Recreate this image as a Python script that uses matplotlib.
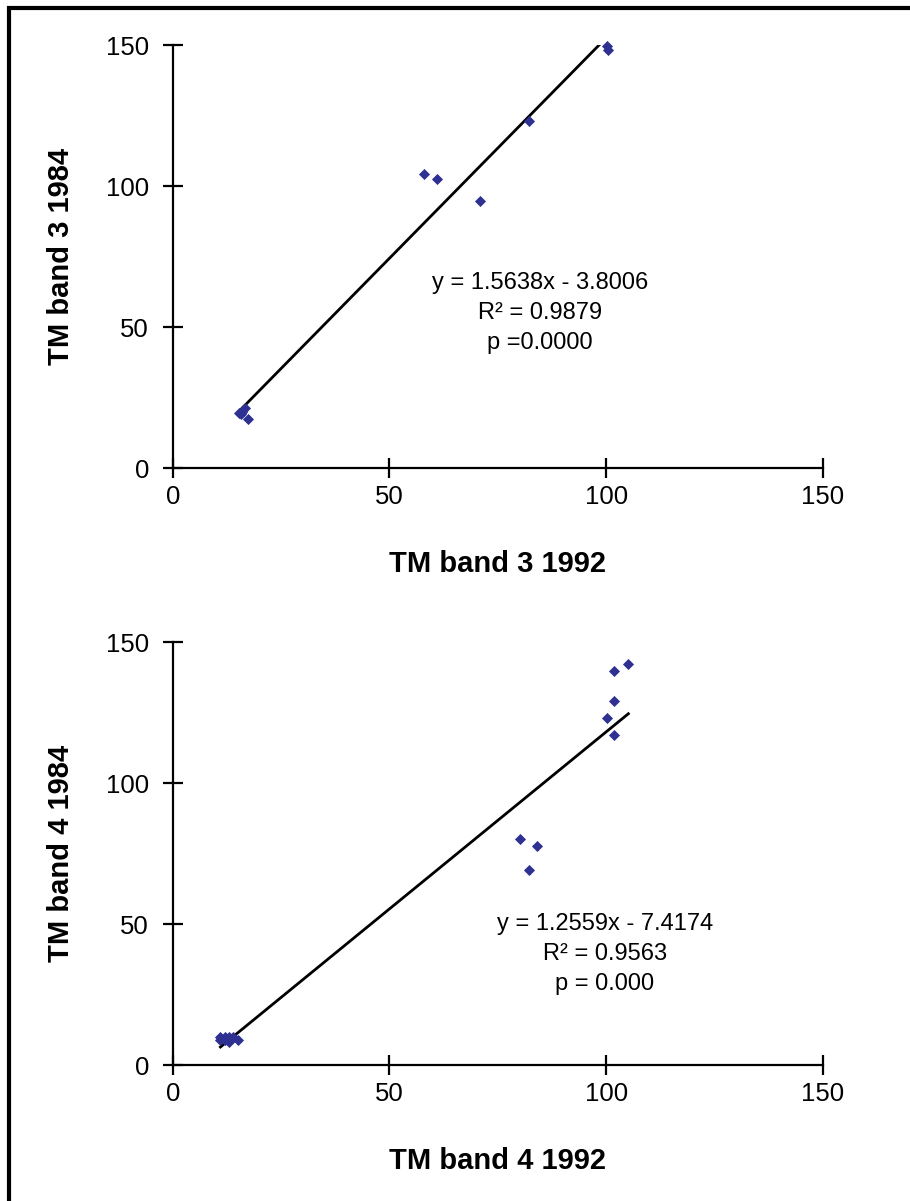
import matplotlib
matplotlib.use("Agg")
import matplotlib.pyplot as plt
import numpy as np
from matplotlib.patches import Rectangle

plt.rcParams['font.family'] = ['Liberation Sans', 'DejaVu Sans']

# band 3 (1992 vs 1984)
b3_x = [15.4, 16.6, 17.3, 16.0, 15.8, 58.0, 61.0, 70.9, 82.2, 100.2, 100.3]
b3_y = [19.4, 21.2, 17.4, 20.0, 19.0, 104.3, 102.4, 94.8, 123.2, 149.5, 148.2]
b3_fit = (1.5638, -3.8006)
b3_text = ["y = 1.5638x - 3.8006", "R\u00b2 = 0.9879", "p =0.0000"]

# band 4 (1992 vs 1984)
b4_x = [11, 11, 12, 12, 13, 13, 14, 15, 80.1, 84.0, 82.2, 100.1, 101.9, 101.9, 101.9, 105.1]
b4_y = [10, 9, 9, 10, 10, 8, 10, 9, 80.0, 77.7, 69.1, 123.2, 139.7, 129.2, 117.1, 142.1]
b4_fit = (1.2559, -7.4174)
b4_text = ["y = 1.2559x - 7.4174", "R\u00b2 = 0.9563", "p = 0.000"]

ticks = [0, 50, 100, 150]
navy = '#2e3192'

fig = plt.figure(figsize=(9.10, 12.01), dpi=100)


def panel(rect, xs, ys, fit, lines, txt_xy, xlab, ylab):
    ax = fig.add_axes(rect)
    ax.scatter(xs, ys, marker='D', s=32, color=navy, zorder=3, clip_on=False, linewidths=0)
    xx = np.array([min(xs), max(xs)])
    ax.plot(xx, fit[0] * xx + fit[1], color='black', lw=2.0)
    ax.set_xlim(0, 150)
    ax.set_ylim(0, 150)
    ax.set_xticks(ticks)
    ax.set_yticks(ticks)
    for s in ['top', 'right']:
        ax.spines[s].set_visible(False)
    for s in ['left', 'bottom']:
        ax.spines[s].set_linewidth(1.6)
    ax.tick_params(direction='inout', length=14, width=1.6, labelsize=18.5)
    ax.tick_params(axis='y', pad=10)
    ax.tick_params(axis='x', pad=5)
    ax.set_xlabel(xlab, fontsize=21, fontweight='bold', labelpad=30)
    ax.set_ylabel(ylab, fontsize=21, fontweight='bold', labelpad=22)
    tx, ty = txt_xy
    for i, t in enumerate(lines):
        ax.text(tx, ty - i * 10.6, t, fontsize=17, ha='center', va='center')
    return ax


panel([0.1898, 0.6103, 0.7146, 0.3522], b3_x, b3_y, b3_fit, b3_text, (84.7, 65.6),
      'TM band 3 1992', 'TM band 3 1984')
panel([0.1898, 0.1132, 0.7146, 0.3522], b4_x, b4_y, b4_fit, b4_text, (99.7, 50.0),
      'TM band 4 1992', 'TM band 4 1984')

# outer frame (only left/top edges visible in the crop)
fig.add_artist(Rectangle((9 / 910, -0.1), 2, 1 - 8 / 1201 + 0.1, fill=False,
                         lw=3, edgecolor='black', transform=fig.transFigure))

fig.savefig('out.png', dpi=100)
